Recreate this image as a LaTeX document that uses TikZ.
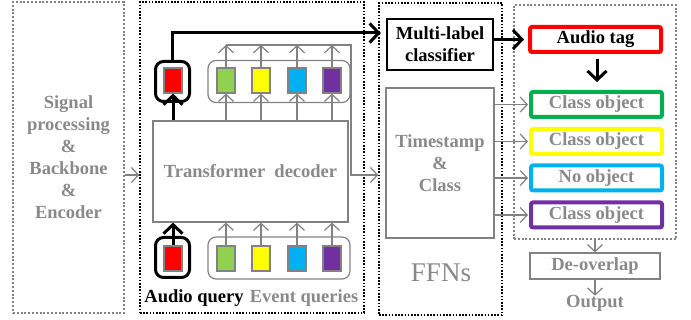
\documentclass[tikz,border=0pt]{standalone}
\usepackage{fontspec}
\setmainfont{Liberation Serif}
\usetikzlibrary{arrows.meta,positioning}
\definecolor{mygray}{RGB}{137,137,137}
\definecolor{lngray}{RGB}{130,130,130}
\definecolor{qgreen}{RGB}{146,208,80}
\definecolor{bgreen}{RGB}{0,176,80}
\definecolor{qyellow}{RGB}{255,255,0}
\definecolor{qblue}{RGB}{0,176,240}
\definecolor{qpurple}{RGB}{112,48,160}
\definecolor{qred}{RGB}{255,0,0}
\tikzset{
  txt/.style={font=\fontsize{18.5}{22}\selectfont\bfseries, align=center, inner sep=0pt},
  gdash/.style={draw=lngray, line width=1.2pt, dash pattern=on 2pt off 1.8pt, inner sep=0pt},
  bdot/.style={draw=black, line width=1.5pt, dash pattern=on 1.6pt off 1.6pt, inner sep=0pt},
  gbox/.style={draw=lngray, line width=1.2pt, inner sep=0pt},
  qrect/.style={draw=lngray, line width=1.2pt, minimum width=18pt, minimum height=25pt, inner sep=0pt},
  cbox/.style={line width=4pt, rounded corners=2pt, minimum width=131pt, minimum height=25pt, inner sep=0pt, text=mygray, font=\fontsize{18.5}{22}\selectfont\bfseries},
  garrow/.style={draw=lngray, line width=1.2pt, -{Straight Barb[length=7pt,width=15pt]}},
  barrow/.style={draw=black, line width=3pt, -{Straight Barb[length=9pt,width=19pt]}},
}
\begin{document}
\begin{tikzpicture}[x=1pt,y=-1pt]
\useasboundingbox (0,0) rectangle (691,320);
% helper coordinates
\coordinate (midy) at (0,175);
\coordinate (topy) at (0,45);
\coordinate (cy) at (0,33);
\coordinate (cornx) at (351,0);
% left box
\node[gdash, minimum width=111pt, minimum height=311pt] (sig) at (68.5,157.5) {};
\node[txt, text=mygray] (sigtxt) at (68.5,157.5) {Signal\\processing\\\&\\Backbone\\\&\\Encoder};
% decoder region
\node[bdot, minimum width=224pt, minimum height=311pt] (decbox) at (252,157.5) {};
\node[gbox, minimum width=195pt, minimum height=101pt, txt, text=mygray] (td) at (250.5,171.5) {Transformer\ \ decoder};
% bottom queries
\node[draw=black, line width=3pt, rounded corners=8pt, minimum width=34pt, minimum height=40pt] (aqbbox) at (172.5,257.5) {};
\node[qrect, fill=qred] (aqb) at (173,258.5) {};
\node[draw=lngray, line width=1.2pt, rounded corners=8pt, minimum width=142pt, minimum height=42pt] (eqbbox) at (279,258) {};
\node[qrect, fill=qgreen] (e1b) at (226,258.5) {};
\node[qrect, fill=qyellow] (e2b) at (261,258.5) {};
\node[qrect, fill=qblue] (e3b) at (297,258.5) {};
\node[qrect, fill=qpurple] (e4b) at (332,258.5) {};
% top queries
\node[draw=black, line width=3pt, rounded corners=8pt, minimum width=34pt, minimum height=40pt] (aqtbox) at (172.5,81.5) {};
\node[qrect, fill=qred] (aqt) at (173,80.5) {};
\node[draw=lngray, line width=1.2pt, rounded corners=8pt, minimum width=142pt, minimum height=42pt] (eqtbox) at (279,81.5) {};
\node[qrect, fill=qgreen] (e1t) at (226,80.5) {};
\node[qrect, fill=qyellow] (e2t) at (261,80.5) {};
\node[qrect, fill=qblue] (e3t) at (297,80.5) {};
\node[qrect, fill=qpurple] (e4t) at (332,80.5) {};
% labels
\node[txt, text=black] (aqlab) at (194,298) {Audio query};
\node[txt, text=mygray] (eqlab) at (304,298) {Event queries};
% FFN region
\node[bdot, minimum width=123pt, minimum height=312pt] (ffn) at (440.5,159) {};
\node[draw=black, line width=2.5pt, minimum width=106pt, minimum height=51pt, txt, text=black] (cls) at (440,44.5) {Multi-label\\classifier};
\node[gbox, minimum width=108pt, minimum height=150pt, txt, text=mygray] (ts) at (440,163) {Timestamp\\\&\\Class};
\node[inner sep=0pt, text=mygray, font=\fontsize{27}{30}\selectfont] (ffnlab) at (441,273) {FFNs};
% output region
\node[gdash, minimum width=162pt, minimum height=234pt] (outbox) at (595,122) {};
\node[cbox, draw=qred, text=black] (tag) at (595.5,39.5) {Audio tag};
\node[cbox, draw=bgreen] (c1) at (596.5,104.5) {Class object};
\node[cbox, draw=qyellow] (c2) at (596.5,141.5) {Class object};
\node[cbox, draw=qblue] (c3) at (596.5,178) {No object};
\node[cbox, draw=qpurple] (c4) at (596.5,215) {Class object};
\node[gbox, minimum width=130pt, minimum height=26pt, txt, text=mygray] (deo) at (595,266) {De-overlap};
\node[txt, text=mygray] (outp) at (595,303) {Output};
\coordinate (tagdown) at (597,82);
% connectors
\draw[garrow] (sig.east |- midy) -- (decbox.west |- midy);
\draw[barrow] (aqb.north) -- (aqb.north |- td.south);
\foreach \n in {e1b,e2b,e3b,e4b} \draw[garrow] (\n.north) -- (\n.north |- td.south);
\draw[barrow] (aqt.south |- td.north) -- (aqt.south);
\foreach \n in {e1t,e2t,e3t,e4t} {
  \draw[garrow] (\n.south |- td.north) -- (\n.south);
  \draw[garrow] (\n.north) -- (\n.north |- topy);
}
\draw[garrow] (e1t.north |- topy) -- (cornx |- topy) -- (cornx |- midy) -- (ffn.west |- midy);
\draw[barrow, shorten >=5pt] (aqtbox.north) -- (aqtbox.north |- cy) -- (cls.west |- cy);
\draw[barrow, shorten >=4pt] (cls.east |- tag.west) -- (tag.west);
\draw[barrow, shorten <=5pt] (tagdown |- tag.south) -- (tagdown);
\foreach \n in {c1,c2,c3,c4} \draw[garrow, shorten >=1pt] (ts.east |- \n.west) -- (\n.west);
\draw[garrow] (outbox.south) -- (deo.north);
\draw[garrow] (deo.south) -- ([yshift=-1pt]outp.north);
\end{tikzpicture}
\end{document}
